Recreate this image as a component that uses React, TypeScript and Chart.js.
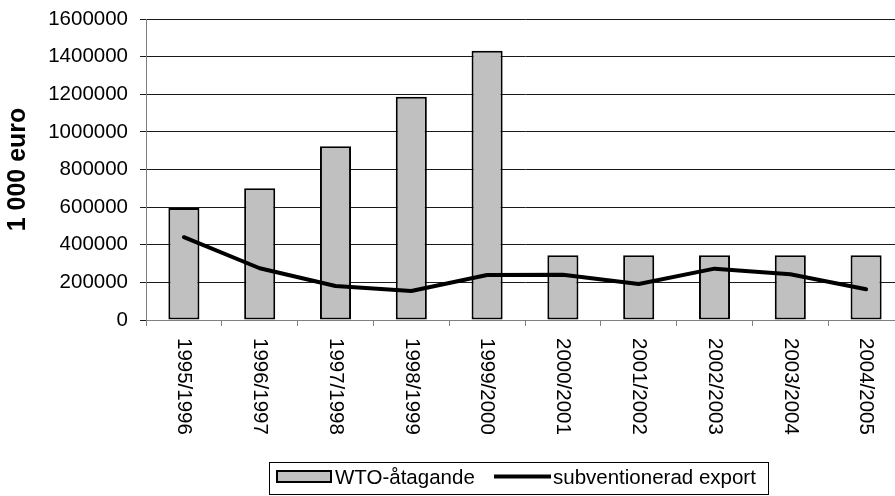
import React, { useEffect, useRef } from "react";
import { Chart, registerables } from "chart.js";

Chart.register(...registerables);

const categories = [
  "1995/1996", "1996/1997", "1997/1998", "1998/1999", "1999/2000",
  "2000/2001", "2001/2002", "2002/2003", "2003/2004", "2004/2005",
];
const wtoValues = [595000, 700000, 923000, 1187000, 1431000, 344000, 344000, 344000, 344000, 344000];
const exportValues = [440000, 275000, 181000, 154000, 239000, 241000, 191000, 273000, 243000, 163000];
const barLabel = "WTO-åtagande";
const lineLabel = "subventionerad export";
const yTitle = "1 000 euro";

const FONT = "'Liberation Sans', Arial, sans-serif";
const FS = 20.5;

const customPlugin = {
  id: "customDraw",
  afterDraw(chart: any) {
    const ctx = chart.ctx;
    const xs = chart.scales.x;
    ctx.save();
    ctx.fillStyle = "#000";
    ctx.font = `${FS}px ${FONT}`;
    ctx.textAlign = "left";
    ctx.textBaseline = "middle";
    categories.forEach((c, i) => {
      const x = xs.getPixelForValue(i);
      ctx.save();
      ctx.translate(x, 338);
      ctx.rotate(Math.PI / 2);
      ctx.fillText(c, 0, 0);
      ctx.restore();
    });
    // legend
    ctx.lineWidth = 1;
    ctx.strokeStyle = "#000";
    ctx.strokeRect(269.5, 462.5, 499, 32);
    ctx.fillStyle = "#c0c0c0";
    ctx.fillRect(277, 471, 54, 11);
    ctx.lineWidth = 2;
    ctx.strokeRect(277, 471, 54, 11);
    ctx.fillStyle = "#000";
    ctx.fillText(barLabel, 335, 478);
    ctx.lineWidth = 4;
    ctx.beginPath();
    ctx.moveTo(494, 476.5);
    ctx.lineTo(551, 476.5);
    ctx.stroke();
    ctx.fillText(lineLabel, 553, 478);
    ctx.restore();
  },
};

export default function App() {
  const ref = useRef<HTMLCanvasElement | null>(null);
  useEffect(() => {
    document.documentElement.style.overflow = "hidden";
    document.body.style.overflow = "hidden";
    const chart = new Chart(ref.current as HTMLCanvasElement, {
      type: "bar",
      data: {
        labels: categories,
        datasets: [
          {
            type: "line",
            label: lineLabel,
            data: exportValues,
            borderColor: "#000",
            borderWidth: 4,
            pointRadius: 0,
            tension: 0,
            borderJoinStyle: "round",
            borderCapStyle: "round",
            order: 0,
          } as any,
          {
            type: "bar",
            label: barLabel,
            data: wtoValues,
            backgroundColor: "#c0c0c0",
            borderColor: "#000",
            borderWidth: 2,
            borderSkipped: false,
            barPercentage: 0.41,
            categoryPercentage: 1,
            order: 1,
          },
        ],
      },
      options: {
        responsive: false,
        animation: false,
        devicePixelRatio: 1,
        layout: { padding: { left: 0, top: 19, right: 8, bottom: 0 } },
        plugins: { legend: { display: false }, tooltip: { enabled: false } },
        scales: {
          x: {
            offset: true,
            grid: {
              offset: true,
              drawOnChartArea: false,
              drawTicks: true,
              tickLength: 6,
              color: "#808080",
            },
            border: { display: true, color: "#808080", width: 1 },
            ticks: { color: "rgba(0,0,0,0)", autoSkip: false, maxRotation: 0, minRotation: 0 },
            afterFit(scale: any) {
              scale.height = 176;
              scale.paddingLeft = 0;
              scale.paddingRight = 0;
            },
          },
          y: {
            min: 0,
            max: 1600000,
            ticks: {
              stepSize: 200000,
              color: "#000",
              padding: 12,
              font: { family: FONT, size: FS },
              callback: (v: any) => String(v),
            },
            grid: { color: "#1a1a1a", lineWidth: 1, tickLength: 6, drawTicks: true },
            border: { display: true, color: "#808080", width: 1 },
            title: {
              display: true,
              text: yTitle,
              color: "#000",
              font: { family: FONT, size: 25, weight: "bold" },
              padding: { top: 3, bottom: 0 },
            },
            afterFit(scale: any) {
              scale.width = 146;
              scale.paddingTop = 0;
              scale.paddingBottom = 0;
            },
          },
        },
      },
      plugins: [customPlugin],
    });
    return () => chart.destroy();
  }, []);
  return (
    <div style={{ position: "fixed", left: 0, top: 0, width: 912, height: 496 }}>
      <canvas ref={ref} width={912} height={496} style={{ width: 912, height: 496, display: "block" }} />
    </div>
  );
}
